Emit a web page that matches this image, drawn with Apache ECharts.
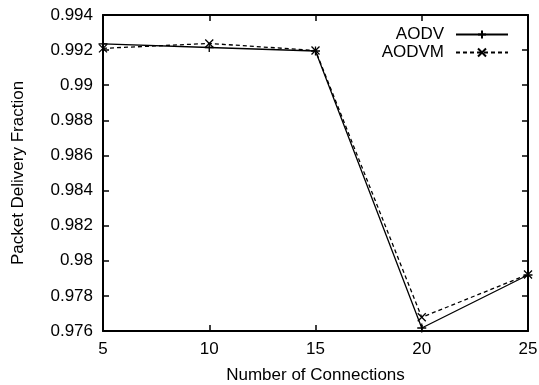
<!DOCTYPE html>
<html>
<head>
<meta charset="utf-8">
<script src="https://cdn.jsdelivr.net/npm/echarts@6/dist/echarts.min.js"></script>
<style>
  html, body { margin: 0; padding: 0; background: #fff; }
  #chart { width: 539px; height: 385px; }
</style>
</head>
<body>
<div id="chart"></div>
<script>
// number of connections on x, delivery fraction on y
const connections = [5, 10, 15, 20, 25];
const aodv = [0.99235, 0.99215, 0.99195, 0.97617, 0.97919];
const aodvm = [0.99210, 0.99238, 0.99198, 0.97678, 0.97922];

const plusSymbol = 'path://M0,-1L0,1M-1,0L1,0';
const crossSymbol = 'path://M-1,-1L1,1M-1,1L1,-1';

const font = 'Liberation Sans';
const fontSize = 17;

function pairs(xs, ys) {
    return xs.map((x, i) => [x, ys[i]]);
}

const frameAxis = {
    axisLine: { show: true, onZero: false, lineStyle: { color: '#000', width: 2 } },
    axisTick: { show: true, inside: true, length: 6, lineStyle: { color: '#000', width: 1.5 } },
    splitLine: { show: false }
};

const chart = echarts.init(document.getElementById('chart'));
chart.setOption({
    animation: false,
    textStyle: { fontFamily: font },
    grid: { left: 103, right: 11, top: 15, bottom: 54, containLabel: false, outerBoundsMode: 'none' },
    legend: {
        orient: 'vertical',
        right: 25,
        top: 21,
        align: 'right',
        itemWidth: 52,
        itemHeight: 10,
        itemGap: 1,
        textStyle: { fontFamily: font, fontSize: fontSize, color: '#000', padding: [0, 7, 0, 0] },
        data: ['AODV', 'AODVM']
    },
    xAxis: [
        Object.assign({
            type: 'value', min: 5, max: 25, interval: 5,
            name: 'Number of Connections', nameLocation: 'middle', nameGap: 36,
            nameTextStyle: { fontFamily: font, fontSize: fontSize, color: '#000' },
            axisLabel: { fontFamily: font, fontSize: fontSize, color: '#000', margin: 10 }
        }, frameAxis),
        Object.assign({
            type: 'value', min: 5, max: 25, interval: 5, position: 'top',
            axisLabel: { show: false }
        }, frameAxis)
    ],
    yAxis: [
        Object.assign({
            type: 'value', min: 0.976, max: 0.994, interval: 0.002,
            name: 'Packet Delivery Fraction', nameLocation: 'middle', nameGap: 76,
            nameTextStyle: { fontFamily: font, fontSize: fontSize, color: '#000' },
            axisLabel: {
                fontFamily: font, fontSize: fontSize, color: '#000', margin: 10,
                formatter: v => String(+v.toFixed(3))
            }
        }, frameAxis),
        Object.assign({
            type: 'value', min: 0.976, max: 0.994, interval: 0.002, position: 'right',
            axisLabel: { show: false }
        }, frameAxis)
    ],
    series: [
        {
            name: 'AODV',
            type: 'line',
            data: pairs(connections, aodv),
            symbol: plusSymbol,
            symbolSize: 9,
            lineStyle: { color: '#000', width: 1.3 },
            itemStyle: { color: 'none', borderColor: '#000', borderWidth: 1.3 }
        },
        {
            name: 'AODVM',
            type: 'line',
            data: pairs(connections, aodvm),
            symbol: crossSymbol,
            symbolSize: 8,
            lineStyle: { color: '#000', width: 1.3, type: [4, 3] },
            itemStyle: { color: 'none', borderColor: '#000', borderWidth: 1.3 }
        }
    ]
});
</script>
</body>
</html>
